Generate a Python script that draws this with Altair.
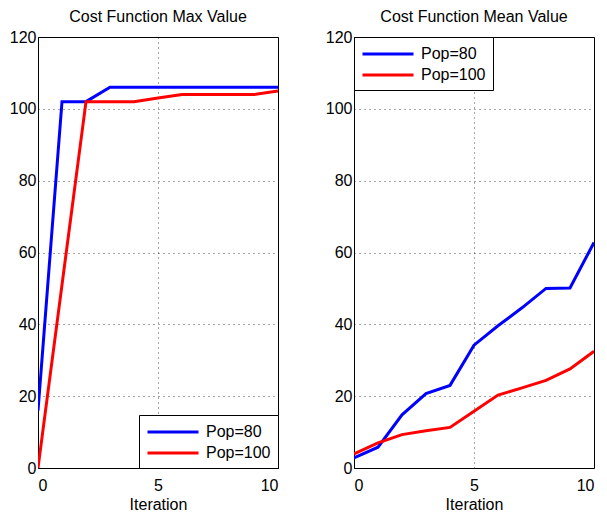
import altair as alt
import pandas as pd

iterations = list(range(11))
max_pop80 = [16, 102, 102, 106, 106, 106, 106, 106, 106, 106, 106]
max_pop100 = [0, 51, 102, 102, 102, 103, 104, 104, 104, 104, 105]
mean_pop80 = [2.8, 5.8, 14.8, 20.7, 23.0, 34.2, 39.6, 44.6, 50.0, 50.1, 62.8]
mean_pop100 = [3.9, 7.0, 9.3, 10.4, 11.3, 15.8, 20.3, 22.3, 24.4, 27.6, 32.5]
series = ["Pop=80", "Pop=100"]
colors = ["#0000FF", "#FF0000"]
y_ticks = [0, 20, 40, 60, 80, 100, 120]
x_ticks = [0, 5, 10]

def frame(a, b):
    rows = []
    for s, vals in zip(series, [a, b]):
        for i, v in zip(iterations, vals):
            rows.append({"Iteration": i, "Value": v, "Series": s, "order": series.index(s)})
    return pd.DataFrame(rows)

FONT = "Liberation Sans"

def panel(df, title, legend_orient):
    return alt.Chart(df).mark_line(strokeWidth=3, clip=True).encode(
        x=alt.X("Iteration:Q", scale=alt.Scale(domain=[0, 10], nice=False),
                axis=alt.Axis(values=x_ticks, title="Iteration", grid=True, format="d")),
        y=alt.Y("Value:Q", scale=alt.Scale(domain=[0, 120], nice=False),
                axis=alt.Axis(values=y_ticks, title=None, grid=True)),
        color=alt.Color("Series:N", sort=series,
                        scale=alt.Scale(domain=series, range=colors),
                        legend=alt.Legend(title=None, orient=legend_orient, offset=0,
                                          strokeColor="black", fillColor="white",
                                          padding=7, symbolType="M-1,0L5,0",
                                          symbolSize=289, symbolStrokeWidth=3,
                                          labelFontSize=16, labelFont=FONT,
                                          rowPadding=3, labelOffset=40)),
        detail="order:O",
    ).properties(width=240, height=431, title=title)

left = panel(frame(max_pop80, max_pop100), "Cost Function Max Value", "bottom-right")
right = panel(frame(mean_pop80, mean_pop100), "Cost Function Mean Value", "top-left")

chart = alt.hconcat(left, right, spacing=76, bounds="flush").resolve_legend(
    color="independent"
).resolve_scale(color="independent").configure(
    font=FONT, padding=0
).configure_view(
    stroke="black", strokeWidth=1
).configure_axis(
    labelFont=FONT, labelFontSize=16, labelColor="black",
    titleFont=FONT, titleFontSize=16, titleFontWeight="normal", titleColor="black",
    domain=False, ticks=False, tickSize=0, labelPadding=2, titlePadding=3,
    gridColor="black", gridDash=[1, 4], gridWidth=1, gridOpacity=0.7,
).configure_axisX(labelPadding=9).configure_title(
    font=FONT, fontSize=16, fontWeight="normal", color="black", offset=4
)

chart.save("out.html", embed_options={"renderer": "svg", "actions": False})
